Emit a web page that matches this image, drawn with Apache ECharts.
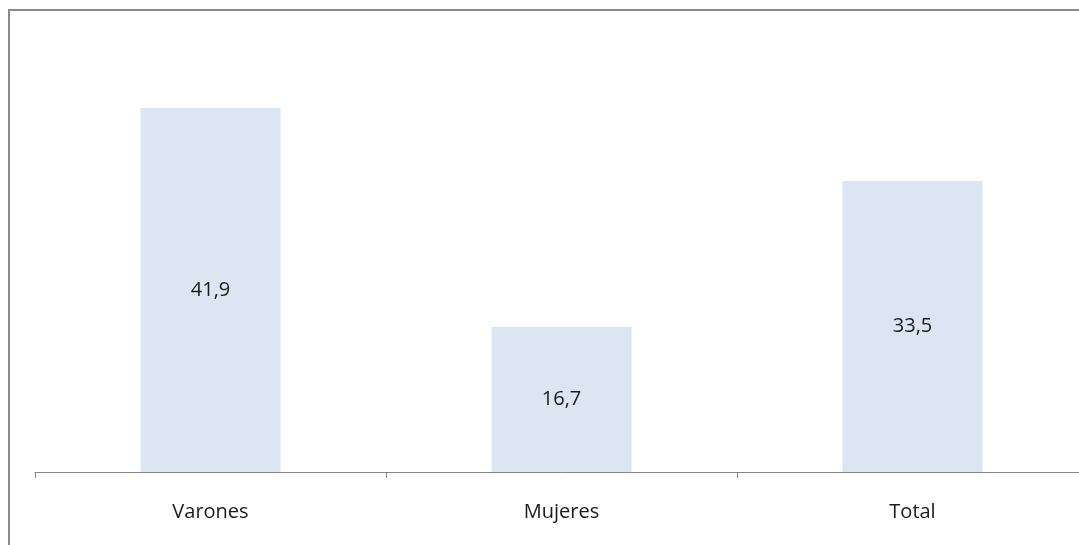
<!DOCTYPE html>
<html><head><meta charset="utf-8">
<script src="https://cdn.jsdelivr.net/npm/echarts@6/dist/echarts.min.js"></script>
<style>html,body{margin:0;padding:0;background:#fff;overflow:hidden;width:1079px;height:545px;}#c{width:1090px;height:545px;}</style>
</head><body><div id="c"></div>
<script>
const categories = ['Varones', 'Mujeres', 'Total'];
const values = [41.9, 16.7, 33.5];

const chart = echarts.init(document.getElementById('c'));
chart.setOption({
  animation: false,
  backgroundColor: '#ffffff',
  graphic: [
    { type: 'line', shape: { x1: 8, y1: 10, x2: 1090, y2: 10 }, style: { stroke: '#8a8a8a', lineWidth: 2 } },
    { type: 'line', shape: { x1: 9, y1: 9, x2: 9, y2: 545 }, style: { stroke: '#8a8a8a', lineWidth: 2 } }
  ],
  grid: { left: 35, top: 81, right: 2, bottom: 73, containLabel: false },
  xAxis: {
    type: 'category',
    data: categories,
    boundaryGap: true,
    axisLine: { lineStyle: { color: '#868686', width: 1 } },
    axisTick: { show: true, length: 6, lineStyle: { color: '#868686' } },
    axisLabel: { margin: 30, fontSize: 20, color: '#1a1a1a', fontFamily: '"Open Sans", sans-serif' }
  },
  yAxis: {
    type: 'value', min: 0, max: 45, show: false,
    splitLine: { show: false }
  },
  series: [{
    type: 'bar',
    data: values,
    barWidth: 140,
    itemStyle: { color: '#dce6f2' },
    label: {
      show: true, position: 'inside', fontSize: 20, color: '#1a1a1a',
      fontFamily: '"Open Sans", sans-serif',
      formatter: p => String(p.value).replace('.', ',')
    }
  }]
});
</script></body></html>
